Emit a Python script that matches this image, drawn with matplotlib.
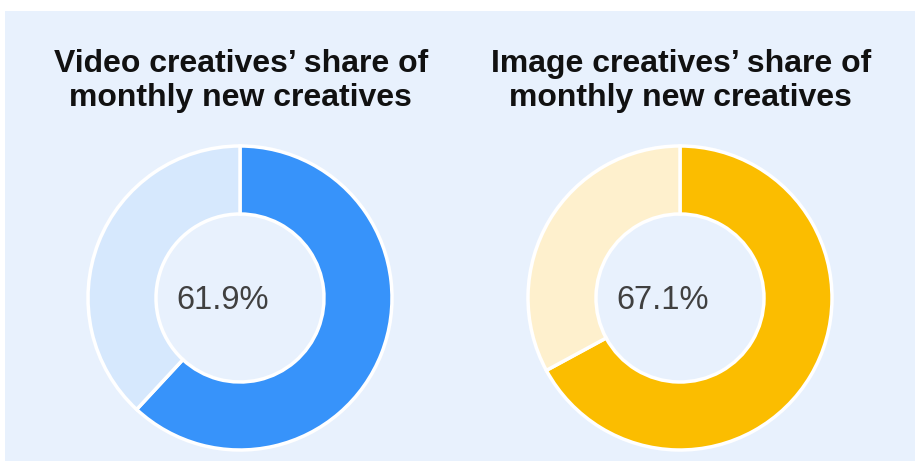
import matplotlib.pyplot as plt
from matplotlib.patches import Rectangle

titles = ["Video creatives\u2019 share of\nmonthly new creatives",
          "Image creatives\u2019 share of\nmonthly new creatives"]
shares = [61.9, 67.1]
main_colors = ["#3793FA", "#FBBD00"]
rest_colors = ["#D6E8FD", "#FEF0CD"]

W, H = 915, 461
fig = plt.figure(figsize=(W / 100, H / 100), dpi=100)
fig.patch.set_facecolor("white")

panel_bg = "#E8F1FD"
fig.patches.append(Rectangle((5 / W, 0), 1 - 5 / W, (H - 11) / H,
                             transform=fig.transFigure, facecolor=panel_bg,
                             edgecolor="none", zorder=-5))

plt.rcParams["font.family"] = ["Liberation Sans", "DejaVu Sans"]

centers_x = [240, 680]
cy = 298
r_out = 152
r_in = 84

for cx, title, share, c_main, c_rest in zip(centers_x, titles, shares, main_colors, rest_colors):
    ax = fig.add_axes([(cx - r_out) / W, (H - cy - r_out) / H, 2 * r_out / W, 2 * r_out / H])
    ax.set_zorder(2)
    ax.patch.set_visible(False)
    wedges, _ = ax.pie([share, 100 - share], colors=[c_main, c_rest], startangle=90,
                       counterclock=False, radius=1,
                       wedgeprops=dict(width=(r_out - r_in) / r_out, edgecolor="white", linewidth=2.5))
    for w in wedges:
        w.set_clip_on(False)
    ax.set_xlim(-1, 1)
    ax.set_ylim(-1, 1)
    ax.set_aspect("equal")
    ax.axis("off")
    # value label sits a little left of the hole centre
    fig.text((cx - 17) / W, (H - 309) / H, f"{share:.1f}%", ha="center", va="baseline",
             fontsize=23.5, color="#404040", zorder=3)
    fig.text(cx / W + 0.001, (H - 81) / H, title, ha="center", va="center",
             fontsize=23, fontweight="bold", color="#111111", linespacing=1.15)

fig.savefig("out.png", dpi=100, facecolor=fig.get_facecolor())
